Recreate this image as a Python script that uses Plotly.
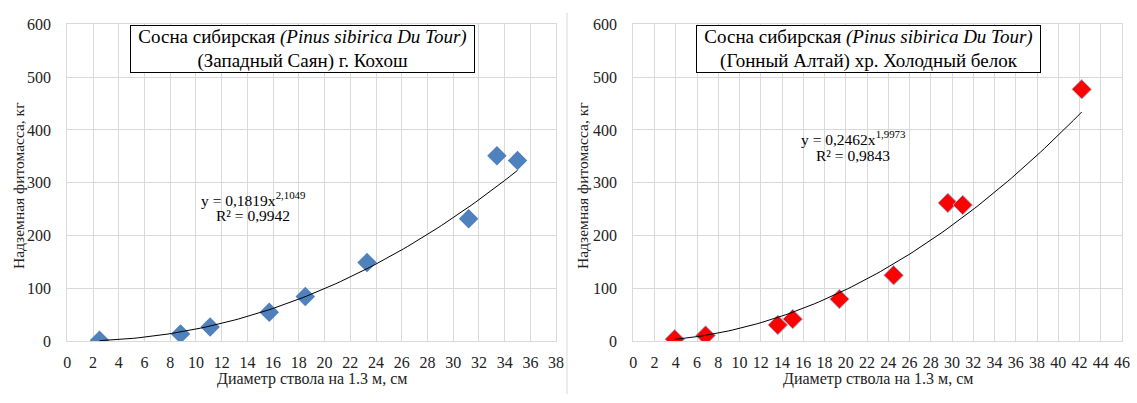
import numpy as np
import plotly.graph_objects as go

# ---- data ----
left_d = [2.5, 8.8, 11.1, 15.7, 18.5, 23.3, 31.2, 33.4, 35.0]
left_m = [2, 14, 27, 55, 85, 149, 232, 351, 342]
left_a, left_b = 0.1819, 2.1049
left_r2 = "0,9942"

right_d = [3.9, 6.8, 13.6, 15.0, 19.4, 24.5, 29.6, 31.0, 42.2]
right_m = [4, 11, 31, 42, 80, 125, 262, 258, 477]
right_a, right_b = 0.2462, 1.9973
right_r2 = "0,9843"

y_ticks = [0, 100, 200, 300, 400, 500, 600]

W, H = 1137, 403
FONT = "Liberation Serif, Times New Roman, serif"

def px(x):
    return x / W

def py(y):
    return 1 - y / H

fig = go.Figure()

fig.add_trace(go.Scatter(x=left_d, y=left_m, mode="markers",
                         marker=dict(symbol="diamond", size=15, color="#4F81BD",
                                     line=dict(color="#4F81BD", width=0)),
                         xaxis="x", yaxis="y", showlegend=False))
tx = np.linspace(min(left_d), max(left_d), 100)
fig.add_trace(go.Scatter(x=tx, y=left_a * tx ** left_b, mode="lines",
                         line=dict(color="black", width=1),
                         xaxis="x", yaxis="y", showlegend=False))

fig.add_trace(go.Scatter(x=right_d, y=right_m, mode="markers",
                         marker=dict(symbol="diamond", size=15, color="#FF0000",
                                     line=dict(color="#9DB3D6", width=1)),
                         xaxis="x2", yaxis="y2", showlegend=False))
tx2 = np.linspace(min(right_d), max(right_d), 100)
fig.add_trace(go.Scatter(x=tx2, y=right_a * tx2 ** right_b, mode="lines",
                         line=dict(color="black", width=1),
                         xaxis="x2", yaxis="y2", showlegend=False))

ydom = [py(348), py(17)]
axis_common = dict(showgrid=True, gridcolor="#D9D9D9", gridwidth=1,
                   showline=True, linecolor="#D9D9D9", linewidth=1, mirror=True,
                   zeroline=False, ticks="",
                   tickfont=dict(family=FONT, size=16, color="#222222"))

fig.update_layout(
    width=W, height=H, margin=dict(l=0, r=0, t=0, b=0),
    paper_bgcolor="white", plot_bgcolor="white",
    font=dict(family=FONT, color="#222222"),
    xaxis=dict(domain=[px(64), px(558)], range=[0, 38], dtick=2, tick0=0,
               anchor="y", ticklabelstandoff=6, **axis_common),
    yaxis=dict(domain=ydom, range=[0, 600], tickvals=y_ticks,
               anchor="x", ticklabelstandoff=12, **axis_common),
    xaxis2=dict(domain=[px(636), px(1130)], range=[0, 46], dtick=2, tick0=0,
                anchor="y2", ticklabelstandoff=6, **axis_common),
    yaxis2=dict(domain=ydom, range=[0, 600], tickvals=y_ticks,
                anchor="x2", ticklabelstandoff=12, **axis_common),
)

ann = []
def title_box(cx, l1, l2):
    ann.append(dict(x=px(cx), y=py(43), xref="paper", yref="paper",
                    xanchor="center", yanchor="middle",
                    text=l1 + "<br>" + l2, showarrow=False,
                    font=dict(family=FONT, size=19, color="black"),
                    bordercolor="black", borderwidth=1, bgcolor="white",
                    width=341, height=44, borderpad=1, align="center"))

title_box(301.5, "Сосна сибирская <i>(Pinus sibirica Du Tour)</i>", "(Западный Саян) г. Кохош")
title_box(874, "Сосна сибирская <i>(Pinus sibirica Du Tour)</i>", "(Гонный Алтай) хр. Холодный белок")

def eq(cx, cy, a, b, r2):
    ann.append(dict(x=px(cx), y=py(cy), xref="paper", yref="paper",
                    xanchor="center", yanchor="middle", showarrow=False,
                    text=f"y = {a:.4f}".replace(".", ",") + "x<sup>" + f"{b:.4f}".replace(".", ",") + "</sup>",
                    font=dict(family=FONT, size=15.5, color="black")))
    ann.append(dict(x=px(cx), y=py(cy + 18), xref="paper", yref="paper",
                    xanchor="center", yanchor="middle", showarrow=False,
                    text="R² = " + r2,
                    font=dict(family=FONT, size=15.5, color="black")))

eq(252, 199, left_a, left_b, left_r2)
eq(858, 136, right_a, right_b, right_r2)

for cx in (311, 883):
    ann.append(dict(x=px(cx), y=py(387), xref="paper", yref="paper",
                    xanchor="center", yanchor="middle", showarrow=False,
                    text="Диаметр ствола на 1.3 м, см",
                    font=dict(family=FONT, size=16, color="#222222")))
for cx in (14, 584):
    ann.append(dict(x=px(cx), y=py(185), xref="paper", yref="paper",
                    xanchor="center", yanchor="middle", showarrow=False,
                    textangle=-90, text="Надземная фитомасса, кг",
                    font=dict(family=FONT, size=15.5, color="#222222")))

fig.update_layout(annotations=ann)
fig.add_shape(type="line", xref="paper", yref="paper",
              x0=px(569), x1=px(569), y0=0, y1=py(5),
              line=dict(color="#D9D9D9", width=1))

fig.write_html("out.html")
